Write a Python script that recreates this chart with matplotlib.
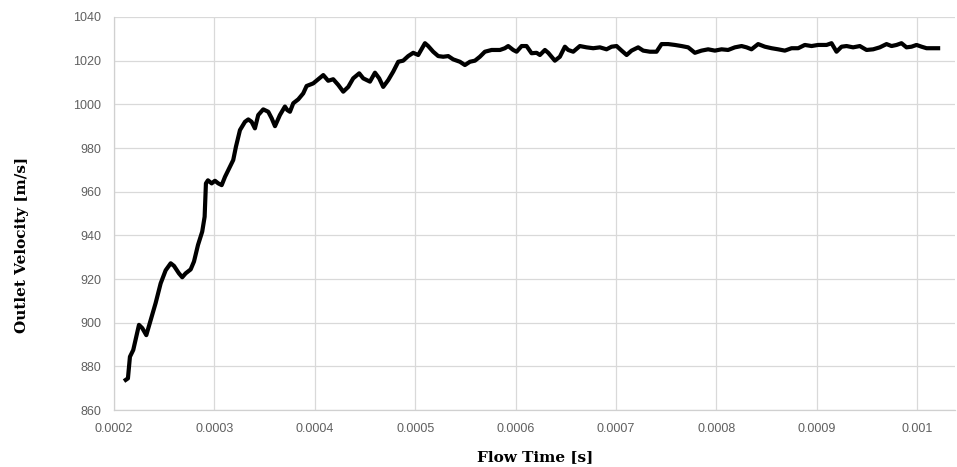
import matplotlib.pyplot as plt
from matplotlib.ticker import FuncFormatter, MultipleLocator
import numpy as np

# flow time in microseconds (converted to seconds below) and outlet velocity in m/s
time_us = [211.7, 213.9, 215.9, 219.2, 224.9, 228.2, 232.2, 236.6, 241.5, 246.5,
           251.5, 256.5, 259.8, 264.7, 268.0, 271.4, 276.4, 279.7, 283.7, 287.9,
           290.3, 291.6, 293.6, 297.3, 300.6, 303.9, 307.3, 310.6, 315.5, 318.8,
           321.5, 325.5, 330.5, 333.8, 337.1, 340.4, 343.7, 348.7, 353.7, 357.1,
           360.4, 365.3, 370.3, 372.6, 375.3, 378.6, 383.6, 388.5, 391.9, 398.5,
           403.5, 408.5, 413.4, 418.4, 423.4, 428.4, 433.4, 438.3, 444.3, 448.3,
           455.0, 460.0, 464.2, 468.2, 473.2, 478.2, 483.2, 488.1, 493.1, 498.1,
           503.1, 509.8, 513.0, 518.0, 523.0, 528.0, 533.0, 537.9, 544.6, 549.6,
           554.6, 559.6, 564.5, 569.5, 576.2, 584.5, 589.4, 592.7, 597.7, 601.1,
           606.1, 611.0, 616.0, 621.0, 624.3, 629.3, 632.6, 639.2, 644.2, 649.2,
           652.5, 657.5, 664.1, 670.8, 677.4, 684.1, 690.7, 695.7, 700.7, 705.7,
           710.7, 715.6, 722.2, 727.2, 733.9, 740.5, 745.5, 752.1, 758.8, 765.4,
           772.0, 778.7, 785.3, 791.9, 798.6, 805.3, 811.8, 818.5, 825.2, 830.2,
           835.1, 841.7, 848.4, 855.1, 861.6, 868.3, 875.0, 881.6, 888.2, 894.9,
           901.5, 909.9, 914.8, 919.8, 924.8, 929.8, 936.3, 943.0, 949.7, 956.3,
           962.9, 969.6, 974.6, 979.6, 984.5, 989.5, 994.5, 999.5, 1004.5, 1009.5,
           1014.4, 1021.0]
velocity = [873.8, 874.5, 884.4, 887.5, 899.0, 897.5, 894.3, 901.2, 909.0, 918.0,
            924.0, 927.2, 926.0, 922.6, 920.8, 922.6, 924.4, 928.0, 935.6, 941.7,
            948.5, 963.8, 965.2, 963.8, 965.0, 963.8, 963.0, 966.8, 971.4, 974.5,
            980.6, 988.2, 992.0, 993.1, 992.0, 989.0, 995.1, 997.7, 996.6, 993.6,
            990.0, 995.1, 999.0, 997.4, 996.6, 1000.5, 1002.3, 1005.0, 1008.4, 1009.6,
            1011.5, 1013.4, 1010.8, 1011.5, 1008.9, 1005.8, 1008.0, 1011.9, 1014.2, 1011.9,
            1010.4, 1014.5, 1011.9, 1008.0, 1011.1, 1015.0, 1019.5, 1020.0, 1022.1, 1023.6,
            1022.6, 1028.0, 1026.7, 1024.1, 1022.1, 1021.8, 1022.1, 1020.6, 1019.5, 1018.0,
            1019.5, 1020.0, 1021.8, 1024.1, 1024.9, 1024.9, 1025.7, 1026.7, 1024.9, 1024.1,
            1026.7, 1026.7, 1023.4, 1023.6, 1022.6, 1024.9, 1023.6, 1020.0, 1021.8, 1026.4,
            1024.9, 1024.1, 1026.7, 1026.1, 1025.7, 1026.1, 1025.2, 1026.4, 1026.7, 1024.6,
            1022.6, 1024.6, 1026.1, 1024.6, 1024.1, 1024.1, 1027.6, 1027.6, 1027.2, 1026.7,
            1026.1, 1023.6, 1024.6, 1025.2, 1024.6, 1025.2, 1024.9, 1026.1, 1026.7, 1026.1,
            1025.2, 1027.6, 1026.4, 1025.7, 1025.2, 1024.6, 1025.7, 1025.7, 1027.2, 1026.7,
            1027.2, 1027.2, 1028.0, 1024.1, 1026.4, 1026.7, 1026.1, 1026.7, 1024.9, 1025.2,
            1026.1, 1027.6, 1026.7, 1027.2, 1028.0, 1026.1, 1026.4, 1027.2, 1026.4, 1025.7,
            1025.7, 1025.7]

flow_time = np.array(time_us) * 1e-6

fig = plt.figure(figsize=(9.57, 4.67), dpi=100)
ax = fig.add_axes([0.1191, 0.122, 0.879, 0.8416])

ax.plot(flow_time, velocity, color='black', linewidth=3.0, solid_joinstyle='round')

ax.set_xlim(0.0002, 0.001038)
ax.set_ylim(860, 1040)
ax.xaxis.set_major_locator(MultipleLocator(0.0001))
ax.yaxis.set_major_locator(MultipleLocator(20))
ax.xaxis.set_major_formatter(FuncFormatter(lambda v, p: '%g' % round(v, 6)))

ax.grid(True, color='#d9d9d9', linewidth=0.9)
ax.set_axisbelow(True)
for s in ['top', 'right']:
    ax.spines[s].set_visible(False)
for s in ['left', 'bottom']:
    ax.spines[s].set_color('#d0d0d0')
    ax.spines[s].set_linewidth(0.9)

ax.tick_params(length=0, pad=9, labelsize=9, labelcolor='#606060')
for lab in ax.get_xticklabels() + ax.get_yticklabels():
    lab.set_family('Liberation Sans')

fig.text(0.559, 0.022, 'Flow Time [s]', ha='center', va='center',
         family='DejaVu Serif', fontweight='bold', fontsize=11)
fig.text(0.0225, 0.476, 'Outlet Velocity [m/s]', ha='center', va='center',
         rotation=90, family='DejaVu Serif', fontweight='bold', fontsize=11)

fig.savefig('out.png', dpi=100)
